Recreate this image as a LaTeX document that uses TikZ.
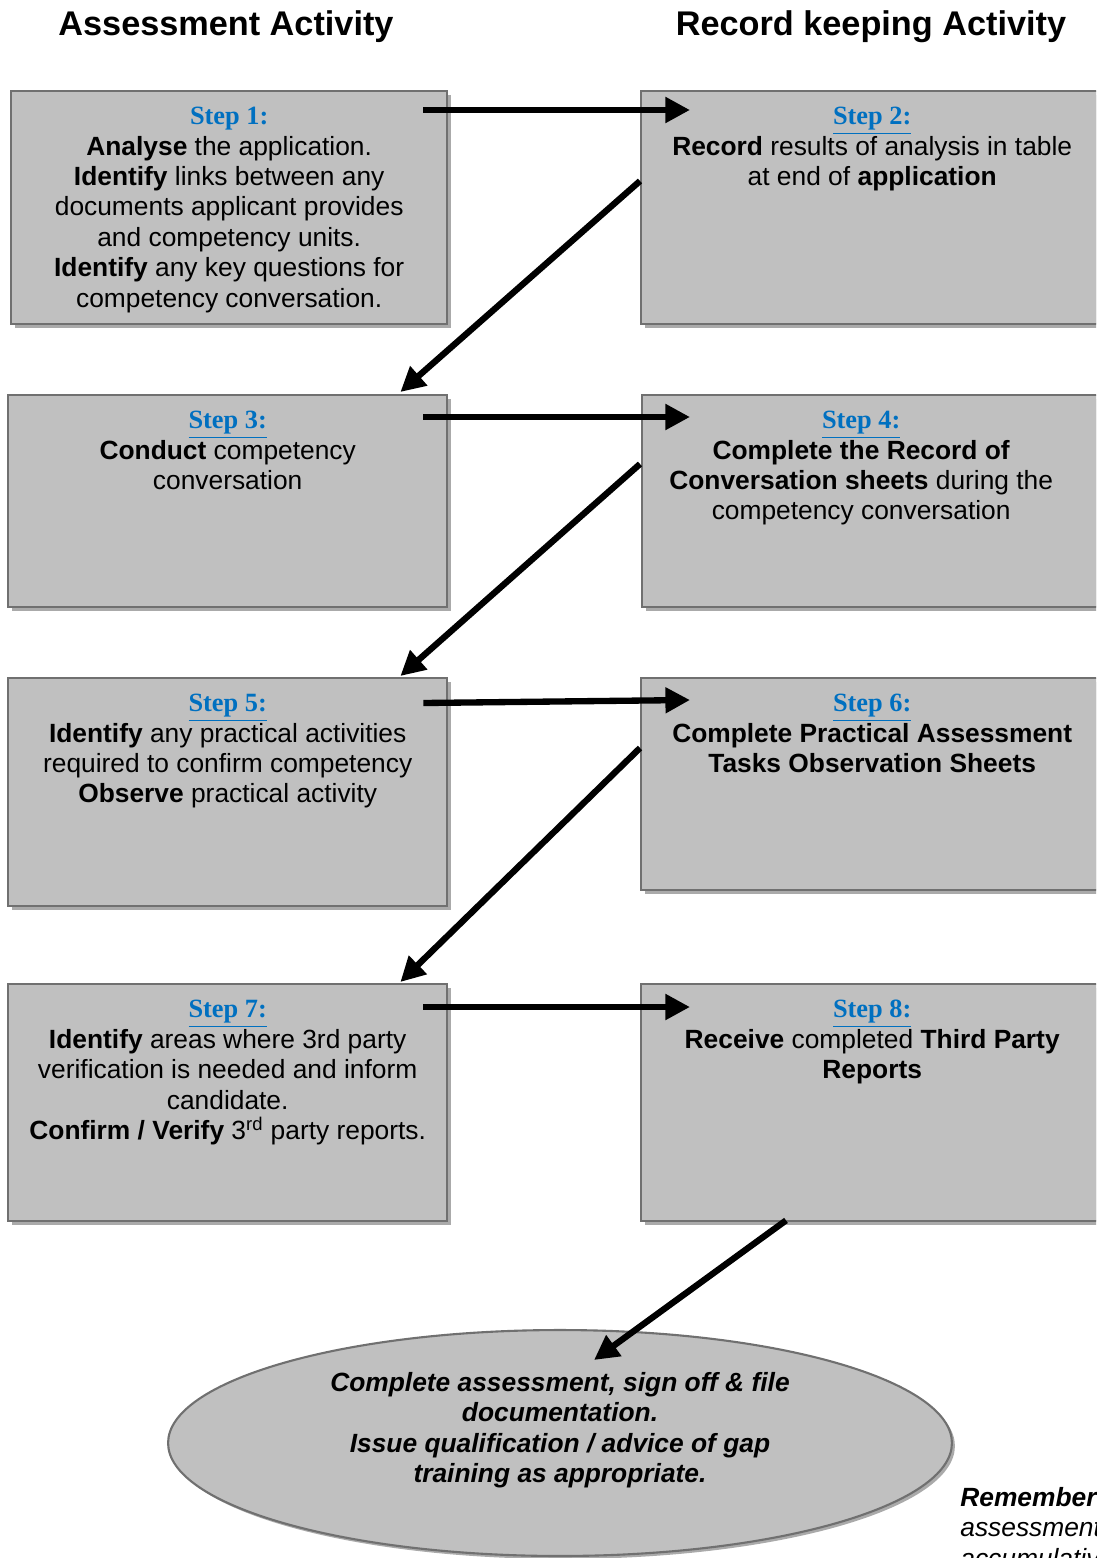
\documentclass[tikz,border=0pt]{standalone}
\usepackage{fontspec}
\usepackage{tikz}
\usepackage{xcolor}
\setmainfont{Liberation Sans}
\newfontfamily\stepfont{Liberation Serif}
\usetikzlibrary{shapes.geometric, arrows.meta, positioning, calc, shadows}
\definecolor{cFill}{RGB}{192,192,192}
\definecolor{cLine}{RGB}{112,112,112}
\definecolor{cShadow}{RGB}{170,170,170}
\definecolor{cStep}{RGB}{0,112,192}
\newcommand{\steplabel}[1]{{\stepfont\bfseries\color{cStep}#1}}
\tikzset{
	stepbox/.style  ={rectangle, anchor=north west, draw=cLine, line width=1.4pt, fill=cFill, inner sep=0pt,
		drop shadow={shadow xshift=0.08cm, shadow yshift=-0.08cm, fill=cShadow, opacity=1}},
	steptext/.style ={anchor=north, align=center, inner sep=0pt, font=\fontsize{15}{17.3}\selectfont},
	header/.style   ={font=\fontsize{19.5}{22}\selectfont\bfseries, inner sep=0pt},
	finish/.style   ={ellipse, draw=cLine, line width=1.2pt, fill=cFill, minimum width=15.68cm, minimum height=4.52cm,
		drop shadow={shadow xshift=0.06cm, shadow yshift=-0.06cm, fill=cShadow, opacity=1}},
	flowarrow/.style={-{Triangle[length=14pt, width=14pt]}, line width=3.6pt, black},
}
\begin{document}
\begin{tikzpicture}[x=0.02cm, y=-0.02cm]
	\useasboundingbox (0,0) rectangle (1096,1558);
	\clip (0,0) rectangle (1096,1558);
	% column headers
	\node[header] (h1) at (226,27) {Assessment Activity};
	\node[header] (h2) at (871,27) {Record keeping Activity};
	% step boxes
	\node[stepbox, minimum width=8.72cm, minimum height=4.66cm] (b1) at (10,90)  {};
	\node[stepbox, minimum width=9.24cm, minimum height=4.66cm] (b2) at (640,90) {};
	\node[stepbox, minimum width=8.78cm, minimum height=4.24cm] (b3) at (7,394)  {};
	\node[stepbox, minimum width=9.24cm, minimum height=4.24cm] (b4) at (641,394) {};
	\node[stepbox, minimum width=8.78cm, minimum height=4.56cm] (b5) at (7,677)  {};
	\node[stepbox, minimum width=9.24cm, minimum height=4.24cm] (b6) at (640,677) {};
	\node[stepbox, minimum width=8.78cm, minimum height=4.74cm] (b7) at (7,983)  {};
	\node[stepbox, minimum width=9.24cm, minimum height=4.74cm] (b8) at (640,983) {};
	\node[finish] (fin) at (560,1443) {};
	% box texts
	\node[steptext] (t1) at ([shift={(0,17)}]b1.north) {\steplabel{Step 1:}\\ \textbf{Analyse} the application.\\ \textbf{Identify} links between any\\ documents applicant provides\\ and competency units.\\ \textbf{Identify} any key questions for\\ competency conversation.};
	\node[steptext] (t2) at ([shift={(0,17)}]b2.north) {\steplabel{\underline{Step 2:}}\\ \textbf{Record} results of analysis in table\\ at end of \textbf{application}};
	\node[steptext] (t3) at ([shift={(0,17)}]b3.north) {\steplabel{\underline{Step 3:}}\\ \textbf{Conduct} competency\\ conversation};
	\node[steptext] (t4) at ([shift={(-12,17)}]b4.north) {\steplabel{\underline{Step 4:}}\\ \textbf{Complete the Record of}\\ \textbf{Conversation sheets} during the\\ competency conversation};
	\node[steptext] (t5) at ([shift={(0,17)}]b5.north) {\steplabel{\underline{Step 5:}}\\ \textbf{Identify} any practical activities\\ required to confirm competency\\ \textbf{Observe} practical activity};
	\node[steptext] (t6) at ([shift={(0,17)}]b6.north) {\steplabel{\underline{Step 6:}}\\ \textbf{Complete Practical Assessment}\\ \textbf{Tasks Observation Sheets}};
	\node[steptext] (t7) at ([shift={(0,17)}]b7.north) {\steplabel{\underline{Step 7:}}\\ \textbf{Identify} areas where 3rd party\\ verification is needed and inform\\ candidate.\\ \textbf{Confirm / Verify} 3\textsuperscript{rd} party reports.};
	\node[steptext] (t8) at ([shift={(0,17)}]b8.north) {\steplabel{\underline{Step 8:}}\\ \textbf{Receive} completed \textbf{Third Party}\\ \textbf{Reports}};
	\node[steptext, anchor=center, font=\fontsize{15}{17.3}\selectfont\bfseries\itshape] (ft) at ([shift={(0,-13)}]fin.center) {Complete assessment, sign off \& file\\ documentation.\\ Issue qualification / advice of gap\\ training as appropriate.};
	\node[steptext, anchor=north west, align=left, font=\fontsize{15}{17.3}\selectfont\itshape] (rem) at (960,1487) {\textbf{Remember}\\ assessment\\ accumulative};
	% connectors
	\draw[flowarrow] ([shift={(-25,20)}]b1.north east) -- ([shift={(50,20)}]b2.north west);
	\draw[flowarrow] ([shift={(0,91)}]b2.north west) -- ([shift={(-48,-2)}]b3.north east);
	\draw[flowarrow] ([shift={(-25,23)}]b3.north east) -- ([shift={(49,23)}]b4.north west);
	\draw[flowarrow] ([shift={(-1,70)}]b4.north west) -- ([shift={(-48,-1)}]b5.north east);
	\draw[flowarrow] ([shift={(-25,26)}]b5.north east) -- ([shift={(50,23)}]b6.north west);
	\draw[flowarrow] ([shift={(0,71)}]b6.north west) -- ([shift={(-48,-1)}]b7.north east);
	\draw[flowarrow] ([shift={(-25,24)}]b7.north east) -- ([shift={(50,24)}]b8.north west);
	\draw[flowarrow] ([shift={(146,-2)}]b8.south west) -- ([shift={(34,-83)}]fin.center);
\end{tikzpicture}
\end{document}
